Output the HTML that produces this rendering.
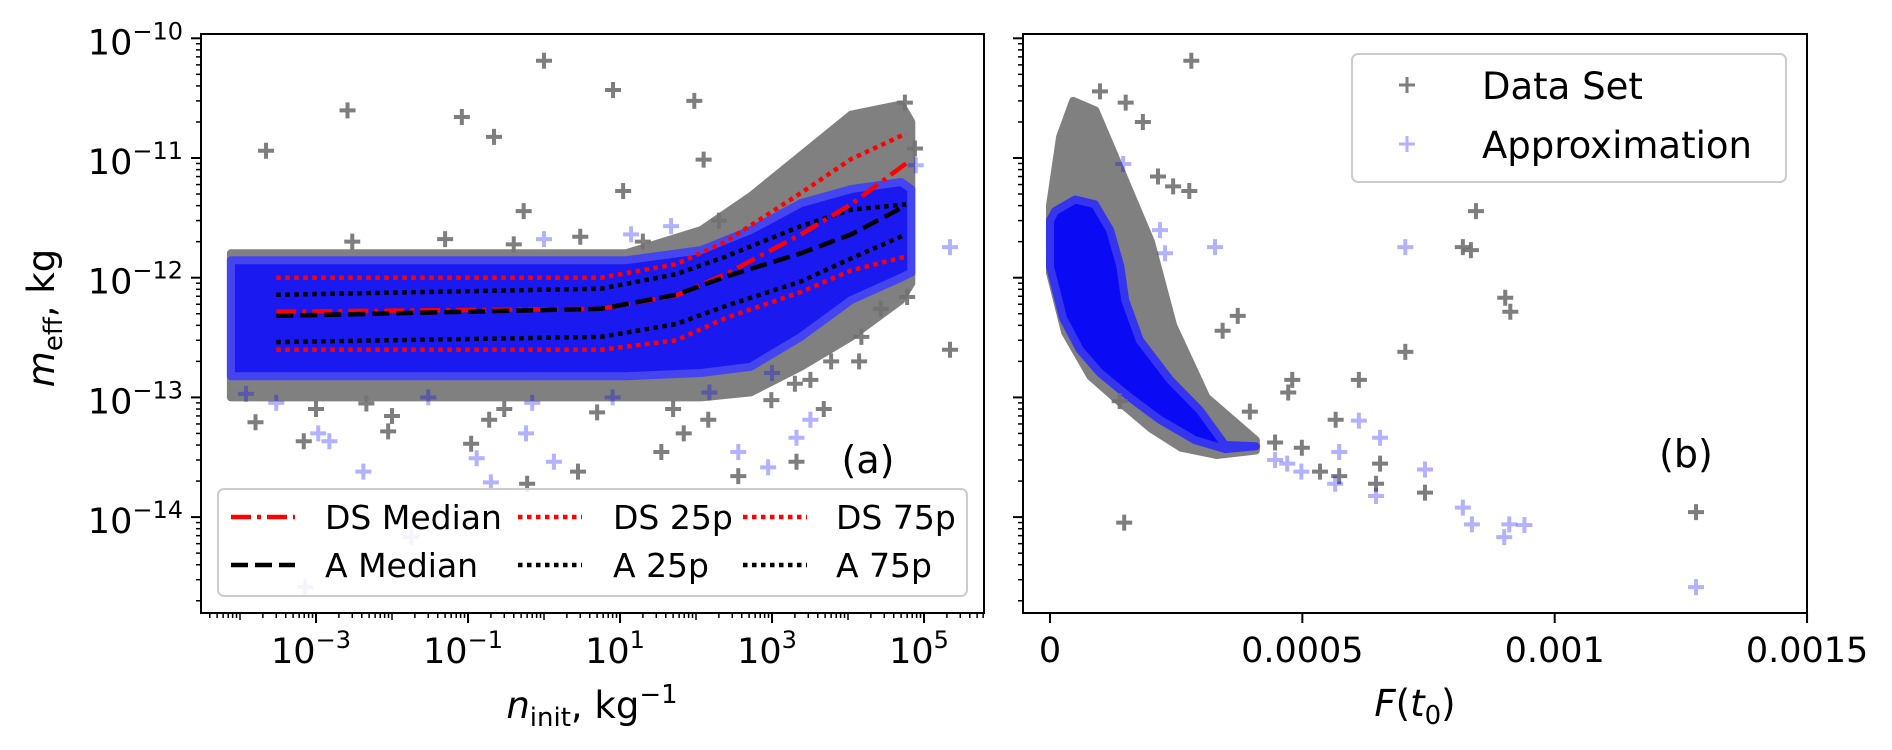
<!DOCTYPE html>
<html><head><meta charset="utf-8"><style>
html,body{margin:0;padding:0;background:#fff;}
svg{display:block;font-family:"DejaVu Sans","Liberation Sans",sans-serif;}
</style></head><body>
<svg id="fig" width="1892" height="750" viewBox="0 0 1892 750">
<defs>
<clipPath id="clipA"><rect x="201" y="34" width="783" height="579"/></clipPath>
<clipPath id="clipB"><rect x="1023" y="34" width="784" height="579"/></clipPath>
</defs>
<g id="panelA"></g>
<g id="panelB"></g>
</svg>
<script>
// ---------- Panel (a) data ----------
const envX = [7.6e-5, 12, 117, 525, 2400, 1.1e4, 5e4, 6.8e4];
const grayUpperA = [1.6e-12, 1.6e-12, 2.5e-12, 4.8e-12, 1.05e-11, 2.3e-11, 2.8e-11, 2.0e-11];
const grayLowerA = [1.0e-13, 1.0e-13, 1.0e-13, 1.1e-13, 1.8e-13, 3.2e-13, 6.5e-13, 9e-13];
const blueUpperA = [1.4e-12, 1.4e-12, 1.7e-12, 2.5e-12, 4.2e-12, 5.5e-12, 6.3e-12, 5.5e-12];
const blueLowerA = [1.5e-13, 1.5e-13, 1.6e-13, 1.8e-13, 3.2e-13, 6.5e-13, 1.0e-12, 1.1e-12];
const grayOutX = [1.0, 8.1, 95, 2.6e-3, 0.083, 2.2e-4, 0.22, 126, 11, 0.54, 5.6e4, 7.6e4, 2.2e5, 6e4, 2.7e4, 1.5e4, 1.4e4, 4.8e3, 2.1e3, 360, 35, 0.6, 69, 980, 6.9e-4, 8.9e-3, 0.11, 145, 1.6e-4, 0.19, 3.2e3, 4.6e-3, 2.8, 3e-3, 0.05, 0.4, 3, 20, 200, 1e-3, 0.01, 0.3, 5, 50, 2e3, 6e3];
const grayOutY = [6.5e-11, 3.7e-11, 3.0e-11, 2.5e-11, 2.2e-11, 1.15e-11, 1.5e-11, 9.7e-12, 5.3e-12, 3.6e-12, 2.9e-11, 1.2e-11, 2.5e-13, 6.9e-13, 5.5e-13, 3.2e-13, 2.0e-13, 8e-14, 2.9e-14, 2.2e-14, 3.5e-14, 1.9e-14, 5e-14, 9.5e-14, 4.3e-14, 5.2e-14, 4.1e-14, 6.5e-14, 6.2e-14, 6.5e-14, 1.4e-13, 8.9e-14, 2.4e-14, 2.0e-12, 2.1e-12, 1.9e-12, 2.2e-12, 2.0e-12, 3.0e-12, 8e-14, 7e-14, 8e-14, 7.5e-14, 8e-14, 1.3e-13, 2.0e-13];
const blueOutX = [2.2e5, 7.8e4, 4.2e-3, 1.5e-3, 0.58, 0.2, 1.35, 360, 890, 2.1e3, 3.2e3, 1.07e-3, 1.2e-4, 0.13, 7.2e-4, 0.018, 47, 1.0, 14, 3e-4, 0.03, 0.7, 8, 150, 1e3];
const blueOutY = [1.8e-12, 8.7e-12, 2.4e-14, 4.3e-14, 5e-14, 1.95e-14, 2.9e-14, 3.5e-14, 2.6e-14, 4.6e-14, 6.5e-14, 5e-14, 1.07e-13, 3.1e-14, 2.6e-15, 6.8e-15, 2.7e-12, 2.1e-12, 2.3e-12, 9e-14, 1.0e-13, 9e-14, 1.0e-13, 1.1e-13, 1.6e-13];
const statX = [3e-4, 5.6, 55, 245, 2400, 1.1e4, 5.8e4];
const dsMedian = [5.2e-13, 5.5e-13, 7.1e-13, 1.07e-12, 2.3e-12, 4.1e-12, 9.0e-12];
const aMedian = [4.8e-13, 5.5e-13, 7.2e-13, 1.02e-12, 1.6e-12, 2.3e-12, 4.0e-12];
const ds25 = [2.5e-13, 2.5e-13, 3.0e-13, 4.6e-13, 7.6e-13, 1.15e-12, 1.5e-12];
const ds75 = [1.0e-12, 1.0e-12, 1.3e-12, 2.0e-12, 5.1e-12, 9.8e-12, 1.6e-11];
const a25 = [2.9e-13, 3.2e-13, 4.1e-13, 5.8e-13, 9.3e-13, 1.45e-12, 2.3e-12];
const a75 = [7.2e-13, 8.1e-13, 1.07e-12, 1.5e-12, 2.7e-12, 3.7e-12, 4.1e-12];
const xTickExpA = [-3, -1, 1, 3, 5];
const yTickExp = [-10, -11, -12, -13, -14];

// ---------- Panel (b) data ----------
const grayPolyF = [0, 2e-5, 4.6e-5, 9e-5, 1.3e-4, 1.6e-4, 2.0e-4, 2.44e-4, 3.1e-4, 4.08e-4, 4.08e-4, 3.3e-4, 2.6e-4, 2.0e-4, 1.4e-4, 8e-5, 3e-5, 0];
const grayPolyM = [4e-12, 1.5e-11, 3e-11, 2.5e-11, 1.0e-11, 5e-12, 2.0e-12, 4e-13, 1.0e-13, 4.4e-14, 3.6e-14, 3.3e-14, 3.8e-14, 5.5e-14, 9e-14, 1.5e-13, 3.5e-13, 1.1e-12];
const bluePolyF = [1.0e-5, 5.0e-5, 8.9e-5, 1.19e-4, 1.39e-4, 1.49e-4, 1.78e-4, 2.38e-4, 2.97e-4, 3.47e-4, 4.08e-4, 3.47e-4, 2.87e-4, 2.18e-4, 1.58e-4, 9.9e-5, 5.9e-5, 2.6e-5, 0, 0];
const bluePolyM = [3.6e-12, 4.5e-12, 4.1e-12, 2.5e-12, 1.26e-12, 6.5e-13, 3.0e-13, 1.4e-13, 7.8e-14, 4.0e-14, 3.9e-14, 3.7e-14, 4.4e-14, 6.5e-14, 1.0e-13, 1.6e-13, 2.5e-13, 4.6e-13, 1.23e-12, 3.0e-12];
const grayOutF = [2.80e-4, 2.14e-4, 2.44e-4, 2.76e-4, 8.44e-4, 8.18e-4, 8.34e-4, 9.02e-4, 9.12e-4, 7.04e-4, 6.12e-4, 4.8e-4, 4.72e-4, 3.72e-4, 3.42e-4, 9.9e-5, 1.5e-4, 1.84e-4, 1.38e-4, 5.66e-4, 1.47e-4, 1.28e-3, 6.54e-4, 7.43e-4, 5.73e-4, 5.35e-4, 4.99e-4, 4.46e-4, 6.46e-4, 3.96e-4];
const grayOutM = [6.5e-11, 7e-12, 5.8e-12, 5.3e-12, 3.6e-12, 1.8e-12, 1.7e-12, 6.8e-13, 5.2e-13, 2.4e-13, 1.4e-13, 1.4e-13, 1.1e-13, 4.8e-13, 3.6e-13, 3.6e-11, 2.9e-11, 2.0e-11, 9.3e-14, 6.5e-14, 9e-15, 1.1e-14, 2.8e-14, 1.6e-14, 2.2e-14, 2.4e-14, 3.8e-14, 4.2e-14, 1.9e-14, 7.6e-14];
const blueOutF = [7.04e-4, 3.27e-4, 2.28e-4, 2.18e-4, 1.45e-4, 6.12e-4, 6.54e-4, 5.73e-4, 7.43e-4, 8.18e-4, 8.36e-4, 9.1e-4, 9.4e-4, 9.0e-4, 6.46e-4, 5.65e-4, 4.98e-4, 4.46e-4, 4.7e-4, 1.28e-3];
const blueOutM = [1.8e-12, 1.8e-12, 1.6e-12, 2.5e-12, 8.9e-12, 6.4e-14, 4.6e-14, 3.5e-14, 2.5e-14, 1.2e-14, 8.7e-15, 8.7e-15, 8.6e-15, 6.8e-15, 1.5e-14, 1.9e-14, 2.4e-14, 3.0e-14, 2.8e-14, 2.6e-15];
const xTickB = [0, 0.0005, 0.001, 0.0015];
const xTickLabelB = ["0", "0.0005", "0.001", "0.0015"];

// ---------- axis functions ----------
const NS = "http://www.w3.org/2000/svg";
function xa(v){ return 316 + (Math.log10(v) + 3) * 76; }
function ym(v){ return 38.3 + (-10 - Math.log10(v)) * 119.7; }
function xb(f){ return 1050 + f * 504700; }
function mk(tag, attrs, parent){
  const e = document.createElementNS(NS, tag);
  for (const k in attrs) e.setAttribute(k, attrs[k]);
  parent.appendChild(e);
  return e;
}
function cross(g, x, y, color, op, w){
  return mk('path', {d:`M${x-8},${y}H${x+8}M${x},${y-8}V${y+8}`, stroke:color, 'stroke-width':w||4, 'stroke-opacity':op, fill:'none'}, g);
}
const A = document.getElementById('panelA');
const B = document.getElementById('panelB');

// ---------- Panel A ----------
const clipA = mk('g', {'clip-path':'url(#clipA)'}, A);


function bandPath(xs, up, lo, fx){
  let d = '';
  xs.forEach((x,i)=>{ d += (i?'L':'M') + fx(x).toFixed(1) + ',' + ym(up[i]).toFixed(1); });
  for (let i = xs.length-1; i >= 0; i--) d += 'L' + fx(xs[i]).toFixed(1) + ',' + ym(lo[i]).toFixed(1);
  return d + 'Z';
}
const gBand = mk('path', {d:bandPath(envX, grayUpperA, grayLowerA, xa), fill:'#808080', stroke:'#808080', 'stroke-width':8, 'stroke-linejoin':'round'}, clipA);


const bBand = mk('path', {d:bandPath(envX, blueUpperA, blueLowerA, xa), fill:'#1a1af0', stroke:'#4545f0', 'stroke-width':8, 'stroke-linejoin':'round'}, clipA);


grayOutX.forEach((x,i)=>{
  const c = cross(clipA, xa(x), ym(grayOutY[i]), '#707070', 0.9);
  
  
});
blueOutX.forEach((x,i)=>{
  const c = cross(clipA, xa(x), ym(blueOutY[i]), '#0000ff', 0.3);
  
  
});
function statLine(vals, color, dash, name){
  const d = statX.map((x,i)=>(i?'L':'M') + xa(x).toFixed(1) + ',' + ym(vals[i]).toFixed(1)).join('');
  const p = mk('path', {d:d, fill:'none', stroke:color, 'stroke-width':4.5, 'stroke-dasharray':dash}, clipA);
  
  
}
statLine(ds25, '#ff0000', '4.5 4.5', 'ds-25p-line');
statLine(ds75, '#ff0000', '4.5 4.5', 'ds-75p-line');
statLine(a25, '#000000', '4.5 4.5', 'a-25p-line');
statLine(a75, '#000000', '4.5 4.5', 'a-75p-line');
statLine(dsMedian, '#ff0000', '20 6 4 6', 'ds-median-line');
statLine(aMedian, '#000000', '17 7', 'a-median-line');

const frA = mk('rect', {x:201, y:34, width:783, height:579, fill:'none', stroke:'#000', 'stroke-width':2}, A);


for (let e = -5; e <= 5; e++){
  for (let m = 1; m <= 9; m++){
    const v = m * Math.pow(10, e);
    const x = xa(v);
    if (x < 201 || x > 984) continue;
    const major = (m === 1 && xTickExpA.includes(e));
    const t = mk('line', {x1:x, x2:x, y1:613, y2:613 + (major ? 10 : (m===1?7:5)), stroke:'#000', 'stroke-width':major?2:1.5}, A);
    
    
  }
}
xTickExpA.forEach(e=>{
  const t = mk('text', {x:xa(Math.pow(10,e)) - 5, y:663, 'font-size':35, 'text-anchor':'middle', fill:'#000'}, A);
  
  
  t.innerHTML = '10<tspan dy="-15" font-size="24">' + (e<0?'\u2212':'') + Math.abs(e) + '</tspan>';
});
function yTicks(parent, x0, labels){
  for (let e = -15; e <= -10; e++){
    for (let m = 1; m <= 9; m++){
      const v = m * Math.pow(10, e);
      const y = ym(v);
      if (y < 34 || y > 613) continue;
      const t = mk('line', {x1:x0, x2:x0 - (m===1?10:5), y1:y, y2:y, stroke:'#000', 'stroke-width':m===1?2:1.5}, parent);
      
      
    }
  }
  if (!labels) return;
  yTickExp.forEach(e=>{
    const t = mk('text', {x:183, y:ym(Math.pow(10,e)) + 16, 'font-size':35, 'text-anchor':'end', fill:'#000'}, parent);
    
    
    t.innerHTML = '10<tspan dy="-15" font-size="24">\u2212' + Math.abs(e) + '</tspan>';
  });
}
yTicks(A, 201, true);

(function(){
  const yl = document.createElementNS(NS, 'text');
  yl.setAttribute('transform', 'translate(54,318) rotate(-90)');
  yl.setAttribute('text-anchor', 'middle');
  yl.setAttribute('font-size', '37');
  
  
  yl.innerHTML = '<tspan font-style="italic">m</tspan><tspan font-size="26" dy="8">eff</tspan><tspan dy="-8">, kg</tspan>';
  A.appendChild(yl);
  const xl = document.createElementNS(NS, 'text');
  xl.setAttribute('x', '592'); xl.setAttribute('y', '718');
  xl.setAttribute('text-anchor', 'middle');
  xl.setAttribute('font-size', '37');
  
  
  xl.innerHTML = '<tspan font-style="italic">n</tspan><tspan font-size="26" dy="8">init</tspan><tspan dy="-8">, kg</tspan><tspan font-size="26" dy="-15">\u22121</tspan>';
  A.appendChild(xl);
  const pa = document.createElementNS(NS, 'text');
  pa.setAttribute('x', '868'); pa.setAttribute('y', '473');
  pa.setAttribute('text-anchor', 'middle'); pa.setAttribute('font-size', '38');
  
  
  pa.textContent = '(a)';
  A.appendChild(pa);

  const lg = document.createElementNS(NS, 'g');
  
  
  A.appendChild(lg);
  mk('rect', {x:218, y:489, width:749, height:107, rx:6, fill:'#fff', 'fill-opacity':0.85, stroke:'#cccccc', 'stroke-width':2}, lg);
  const entries = [
    {hx:231, tx:325, y:517, c:'#ff0000', d:'20 6 4 6', t:'DS Median', n:'legend-entry-ds-median'},
    {hx:518, tx:613, y:517, c:'#ff0000', d:'4.5 4.5', t:'DS 25p', n:'legend-entry-ds-25p'},
    {hx:743, tx:836, y:517, c:'#ff0000', d:'4.5 4.5', t:'DS 75p', n:'legend-entry-ds-75p'},
    {hx:231, tx:325, y:565, c:'#000000', d:'17 7', t:'A Median', n:'legend-entry-a-median'},
    {hx:518, tx:613, y:565, c:'#000000', d:'4.5 4.5', t:'A 25p', n:'legend-entry-a-25p'},
    {hx:743, tx:836, y:565, c:'#000000', d:'4.5 4.5', t:'A 75p', n:'legend-entry-a-75p'}
  ];
  entries.forEach(en=>{
    const g = document.createElementNS(NS, 'g');
    
    
    lg.appendChild(g);
    mk('line', {x1:en.hx, x2:en.hx+64, y1:en.y, y2:en.y, stroke:en.c, 'stroke-width':4.5, 'stroke-dasharray':en.d}, g);
    const t = mk('text', {x:en.tx, y:en.y+12, 'font-size':33, fill:'#000'}, g);
    t.textContent = en.t;
  });
})();

// ---------- Panel B ----------
(function(){
  const cb = mk('g', {'clip-path':'url(#clipB)'}, B);
  
  
  function poly(fs, ms){ return fs.map((f,i)=>(i?'L':'M') + xb(f).toFixed(1) + ',' + ym(ms[i]).toFixed(1)).join('') + 'Z'; }
  const gp = mk('path', {d:poly(grayPolyF, grayPolyM), fill:'#808080', stroke:'#808080', 'stroke-width':8, 'stroke-linejoin':'round'}, cb);
  
  
  const bp = mk('path', {d:poly(bluePolyF, bluePolyM), fill:'#0a0af5', stroke:'#3535f0', 'stroke-width':8, 'stroke-linejoin':'round'}, cb);
  
  
  grayOutF.forEach((f,i)=>{
    const c = cross(cb, xb(f), ym(grayOutM[i]), '#707070', 0.9);
    
    
  });
  blueOutF.forEach((f,i)=>{
    const c = cross(cb, xb(f), ym(blueOutM[i]), '#0000ff', 0.3);
    
    
  });
  const fr = mk('rect', {x:1023, y:34, width:784, height:579, fill:'none', stroke:'#000', 'stroke-width':2}, B);
  
  
  yTicks(B, 1023, false);
  xTickB.forEach((f,i)=>{
    const x = xb(f);
    const t = mk('line', {x1:x, x2:x, y1:613, y2:623, stroke:'#000', 'stroke-width':2}, B);
    
    
    const l = mk('text', {x:x, y:662, 'font-size':35, 'text-anchor':'middle', fill:'#000'}, B);
    
    
    l.textContent = xTickLabelB[i];
  });
  const xl = mk('text', {x:1415, y:716, 'font-size':37, 'text-anchor':'middle', fill:'#000'}, B);
  
  
  xl.innerHTML = '<tspan font-style="italic">F</tspan>(<tspan font-style="italic">t</tspan><tspan font-size="26" dy="8">0</tspan><tspan dy="-8">)</tspan>';
  const pb = mk('text', {x:1686, y:467, 'font-size':38, 'text-anchor':'middle', fill:'#000'}, B);
  
  
  pb.textContent = '(b)';
  const lg = mk('g', {}, B);
  
  
  mk('rect', {x:1352, y:54, width:434, height:128, rx:6, fill:'#fff', 'fill-opacity':0.85, stroke:'#cccccc', 'stroke-width':2}, lg);
  const e1 = mk('g', {}, lg);
  
  
  cross(e1, 1407, 85, '#707070', 0.9, 3);
  mk('text', {x:1482, y:99, 'font-size':37, fill:'#000'}, e1).textContent = 'Data Set';
  const e2 = mk('g', {}, lg);
  
  
  cross(e2, 1407, 144, '#0000ff', 0.3, 3);
  mk('text', {x:1482, y:158, 'font-size':37, fill:'#000'}, e2).textContent = 'Approximation';
})();
</script>
</body></html>
